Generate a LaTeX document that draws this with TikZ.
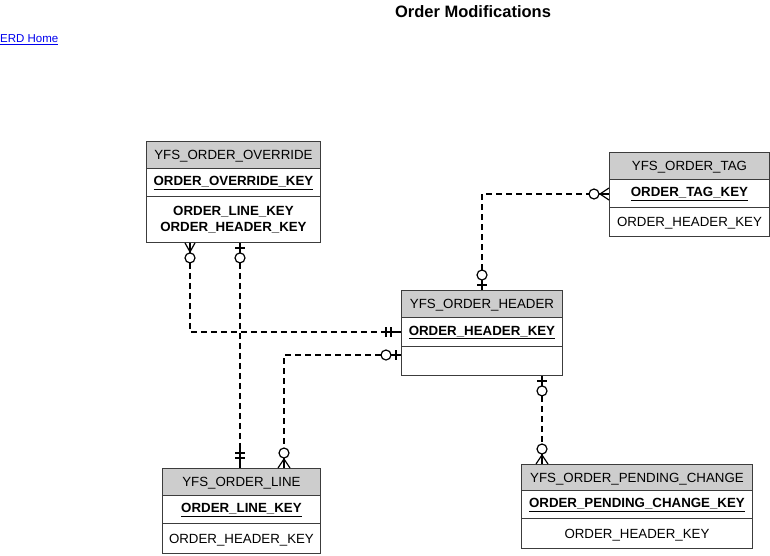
\documentclass[tikz,border=0pt]{standalone}
\usepackage{fontspec}
\setmainfont{Liberation Sans}
\usetikzlibrary{calc}
\definecolor{hdrgray}{RGB}{205,205,205}
\definecolor{boxline}{RGB}{60,60,60}
\definecolor{linkblue}{RGB}{0,0,238}
\tikzset{
  hdr/.style={draw=boxline, line width=0.9pt, fill=hdrgray, inner sep=0pt, anchor=north west,
    minimum width=#1, font=\fontsize{13.3}{15}\selectfont, text height=9.5pt, text depth=0pt},
  row/.style={draw=boxline, line width=0.9pt, fill=white, inner sep=0pt, anchor=north west,
    minimum width=#1, font=\fontsize{13.3}{15}\selectfont, align=center},
  attrrow/.style={row=#1, text height=9.5pt, text depth=0pt},
  keyrow/.style={row=#1, font=\fontsize{13.3}{15}\selectfont\bfseries, text height=9.5pt, text depth=3pt},
  rel/.style={line width=1.4pt, dash pattern=on 6pt off 4pt},
  sym/.style={line width=1.2pt},
  circ/.style={line width=1.2pt, fill=white}
}
\newcommand{\keytxt}[1]{\underline{#1}}
\begin{document}
\begin{tikzpicture}[x=1pt,y=-1pt]
\useasboundingbox (0,0) rectangle (770,555);
% title and link
\node[font=\fontsize{16.5}{18}\selectfont\bfseries] (title) at (473,12) {Order Modifications};
\node[anchor=west, inner sep=0pt, text=linkblue, font=\fontsize{11.5}{13}\selectfont] (home) at (0,40) {\underline{ERD Home}};

% YFS_ORDER_OVERRIDE
\node[hdr=174pt, minimum height=27pt] (ovh) at (146,141) {YFS\_ORDER\_OVERRIDE};
\node[keyrow=174pt, minimum height=28pt] (ovk) at (146,168) {\keytxt{ORDER\_OVERRIDE\_KEY}};
\node[row=174pt, minimum height=46pt, font=\fontsize{13.3}{15.5}\selectfont\bfseries] (ova) at (146,196) {ORDER\_LINE\_KEY\\ORDER\_HEADER\_KEY};

% YFS_ORDER_TAG
\node[hdr=160pt, minimum height=27pt] (tgh) at (609,152) {YFS\_ORDER\_TAG};
\node[keyrow=160pt, minimum height=28pt] (tgk) at (609,179) {\keytxt{ORDER\_TAG\_KEY}};
\node[attrrow=160pt, minimum height=29pt] (tga) at (609,207) {ORDER\_HEADER\_KEY};

% YFS_ORDER_HEADER
\node[hdr=161pt, minimum height=27pt] (hdh) at (401,290) {YFS\_ORDER\_HEADER};
\node[keyrow=161pt, minimum height=29pt] (hdk) at (401,317) {\keytxt{ORDER\_HEADER\_KEY}};
\node[row=161pt, minimum height=29pt] (hda) at (401,346) {};

% YFS_ORDER_PENDING_CHANGE
\node[hdr=231pt, minimum height=26pt] (pch) at (521,464) {YFS\_ORDER\_PENDING\_CHANGE};
\node[keyrow=231pt, minimum height=28pt] (pck) at (521,490) {\keytxt{ORDER\_PENDING\_CHANGE\_KEY}};
\node[attrrow=231pt, minimum height=30pt] (pca) at (521,518) {ORDER\_HEADER\_KEY};

% YFS_ORDER_LINE
\node[hdr=158pt, minimum height=27pt] (lnh) at (162,468) {YFS\_ORDER\_LINE};
\node[keyrow=158pt, minimum height=28pt] (lnk) at (162,495) {\keytxt{ORDER\_LINE\_KEY}};
\node[attrrow=158pt, minimum height=30pt] (lna) at (162,523) {ORDER\_HEADER\_KEY};

% ---------- connector 1: OVERRIDE (zero-or-many) -> HEADER (one and only one)
\coordinate (a1) at ($(ova.south west)+(44,0)$);
\coordinate (b1) at ($(hdk.north west)+(0,15)$);
\draw[sym] ($(a1)+(-5,0)$) -- ($(a1)+(0,9)$) -- ($(a1)+(5,0)$);
\draw[sym] (a1) -- ($(a1)+(0,10)$);
\draw[rel] ($(a1)+(0,20)$) |- ($(b1)+(-20,0)$);
\draw[sym] ($(b1)+(-20,0)$) -- (b1);
\draw[sym] ($(b1)+(-15,-5)$) -- ($(b1)+(-15,5)$);
\draw[sym] ($(b1)+(-10,-5)$) -- ($(b1)+(-10,5)$);
\draw[circ] ($(a1)+(0,15)$) circle[radius=5pt];

% ---------- connector 2: OVERRIDE (zero-or-one) -> LINE (one and only one)
\coordinate (a2) at ($(ova.south west)+(94,0)$);
\coordinate (b2) at ($(lnh.north west)+(78,0)$);
\draw[sym] (a2) -- ($(a2)+(0,10)$);
\draw[sym] ($(a2)+(-5,5)$) -- ($(a2)+(5,5)$);
\draw[rel] ($(a2)+(0,20)$) -- ($(b2)+(0,-20)$);
\draw[sym] ($(b2)+(0,-20)$) -- (b2);
\draw[sym] ($(b2)+(-5,-15)$) -- ($(b2)+(5,-15)$);
\draw[sym] ($(b2)+(-5,-10)$) -- ($(b2)+(5,-10)$);
\draw[circ] ($(a2)+(0,15)$) circle[radius=5pt];

% ---------- connector 3: HEADER (zero-or-one) -> LINE (zero-or-many)
\coordinate (a3) at ($(hda.north west)+(0,9)$);
\coordinate (b3) at ($(lnh.north west)+(122,0)$);
\draw[sym] (a3) -- ($(a3)+(-10,0)$);
\draw[sym] ($(a3)+(-5,-5)$) -- ($(a3)+(-5,5)$);
\draw[rel] ($(a3)+(-20,0)$) -| ($(b3)+(0,-20)$);
\draw[circ] ($(a3)+(-15,0)$) circle[radius=5pt];
\draw[sym] ($(b3)+(-6,0)$) -- ($(b3)+(0,-9)$) -- ($(b3)+(6,0)$);
\draw[sym] (b3) -- ($(b3)+(0,-10)$);
\draw[circ] ($(b3)+(0,-15)$) circle[radius=5pt];

% ---------- connector 4: HEADER (zero-or-one) -> TAG (zero-or-many)
\coordinate (a4) at ($(hdh.north west)+(81,0)$);
\coordinate (b4) at ($(tgk.north west)+(0,15)$);
\draw[sym] (a4) -- ($(a4)+(0,-10)$);
\draw[sym] ($(a4)+(-5,-5)$) -- ($(a4)+(5,-5)$);
\draw[rel] ($(a4)+(0,-20)$) |- ($(b4)+(-20,0)$);
\draw[circ] ($(a4)+(0,-15)$) circle[radius=5pt];
\draw[sym] ($(b4)+(0,-6)$) -- ($(b4)+(-9,0)$) -- ($(b4)+(0,6)$);
\draw[sym] (b4) -- ($(b4)+(-10,0)$);
\draw[circ] ($(b4)+(-15,0)$) circle[radius=5pt];

% ---------- connector 5: HEADER (zero-or-one) -> PENDING_CHANGE (zero-or-many)
\coordinate (a5) at ($(hda.south west)+(141,0)$);
\coordinate (b5) at ($(pch.north west)+(21,0)$);
\draw[sym] (a5) -- ($(a5)+(0,10)$);
\draw[sym] ($(a5)+(-5,5)$) -- ($(a5)+(5,5)$);
\draw[rel] ($(a5)+(0,20)$) -- ($(b5)+(0,-20)$);
\draw[circ] ($(a5)+(0,15)$) circle[radius=5pt];
\draw[sym] ($(b5)+(-6,0)$) -- ($(b5)+(0,-9)$) -- ($(b5)+(6,0)$);
\draw[sym] (b5) -- ($(b5)+(0,-10)$);
\draw[circ] ($(b5)+(0,-15)$) circle[radius=5pt];
\end{tikzpicture}
\end{document}
